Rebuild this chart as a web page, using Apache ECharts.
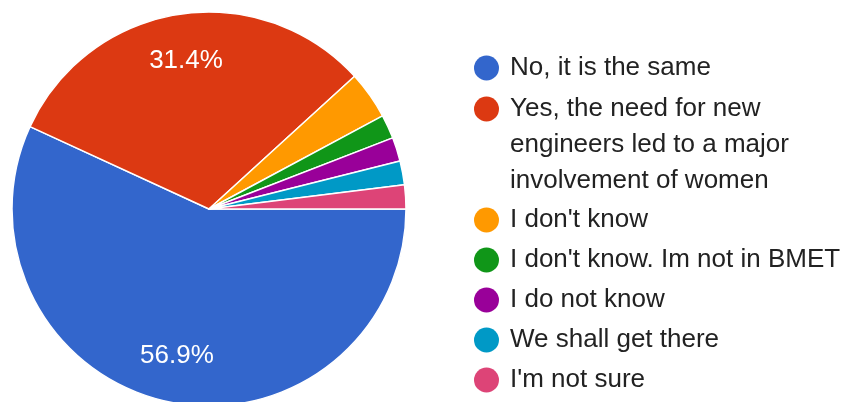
<!DOCTYPE html>
<html>
<head>
<meta charset="utf-8">
<script src="https://cdn.jsdelivr.net/npm/echarts@6/dist/echarts.min.js"></script>
<style>
  html, body { margin: 0; padding: 0; background: #fff; }
  #chart { width: 847px; height: 402px; }
</style>
</head>
<body>
<div id="chart"></div>
<script>
// Survey answers and their response counts
const categories = [
  'No, it is the same',
  'Yes, the need for new engineers led to a major involvement of women',
  "I don't know",
  "I don't know. Im not in BMET",
  'I do not know',
  'We shall get there',
  "I'm not sure"
];
const counts = [29, 16, 2, 1, 1, 1, 1];
const colors = ['#3366cc', '#dc3912', '#ff9900', '#109618', '#990099', '#0099c6', '#dd4477'];

const FONT = '"Liberation Sans", Arial, sans-serif';
const FONT_SIZE = 26;
const LINE_H = 36;
const TEXT_COLOR = '#222';

const pieData = categories.map((name, i) => ({ name, value: counts[i] }));

const baseText = {
  fontFamily: FONT,
  fontSize: FONT_SIZE,
  color: TEXT_COLOR,
  lineHeight: LINE_H,
  width: 340,
  overflow: 'break',
  padding: [0, 0, 0, 6]
};

function legendBlock(names, top, extra) {
  return Object.assign({
    orient: 'vertical',
    left: 474,
    top: top,
    padding: 0,
    itemGap: 4,
    itemWidth: 25,
    itemHeight: 25,
    icon: 'circle',
    selectedMode: false,
    itemStyle: { borderWidth: 0 },
    data: names,
    textStyle: Object.assign({}, baseText)
  }, extra || {});
}

const chart = echarts.init(document.getElementById('chart'), null, { renderer: 'canvas' });
chart.setOption({
  backgroundColor: '#fff',
  color: colors,
  animation: false,
  legend: [
    legendBlock([categories[0]], 50),
    // the long answer wraps over three lines; rich-text padding keeps the
    // first line level with its icon
    legendBlock([categories[1]], 55, {
      formatter: name => '{t|' + name + '}',
      textStyle: Object.assign({}, baseText, {
        padding: [LINE_H, 0, -LINE_H, 6],
        rich: {
          t: { fontFamily: FONT, fontSize: FONT_SIZE, color: TEXT_COLOR, lineHeight: LINE_H }
        }
      })
    }),
    legendBlock(categories.slice(2), 202)
  ],
  series: [
    {
      type: 'pie',
      center: [209, 209],
      radius: 197,
      startAngle: 0,
      clockwise: true,
      silent: true,
      data: pieData,
      label: { show: false },
      labelLine: { show: false },
      itemStyle: { borderColor: '#fff', borderWidth: 1.5 },
      emphasis: { disabled: true }
    },
    {
      // transparent ring carrying the percentage labels further out
      type: 'pie',
      center: [209, 209],
      radius: [97, 197],
      startAngle: 0,
      clockwise: true,
      silent: true,
      percentPrecision: 1,
      data: pieData,
      itemStyle: { color: 'transparent', borderWidth: 0 },
      label: {
        show: true,
        position: 'inside',
        color: '#fff',
        fontFamily: FONT,
        fontSize: FONT_SIZE,
        formatter: p => (p.percent >= 10 ? p.percent + '%' : '')
      },
      labelLine: { show: false },
      emphasis: { disabled: true }
    }
  ]
});
</script>
</body>
</html>
